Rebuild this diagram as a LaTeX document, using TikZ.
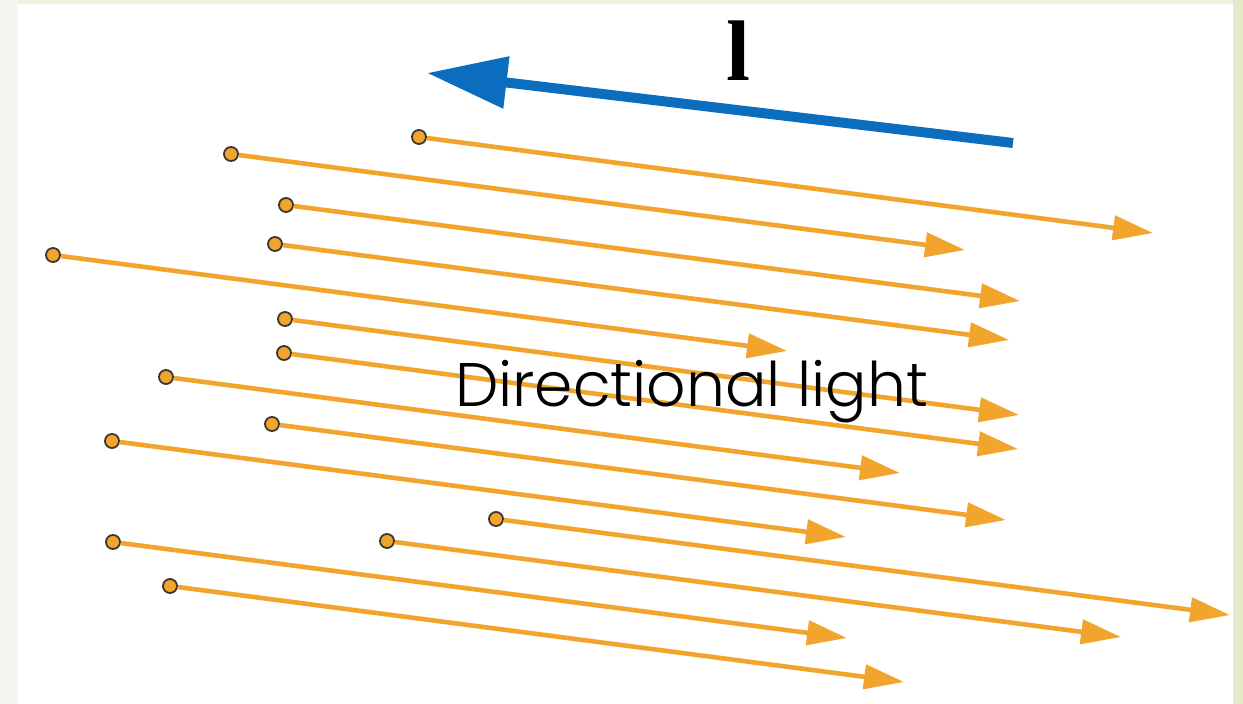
\documentclass[tikz,border=0pt]{standalone}
\usepackage{fontspec}
\setmainfont{Poppins Light}
\newfontfamily\serifbold{Liberation Serif}
\usetikzlibrary{arrows.meta,calc}
\definecolor{rayorange}{HTML}{F2A52D}
\definecolor{dirblue}{HTML}{0A6DBD}
\definecolor{dotedge}{HTML}{3A3530}
\definecolor{pageL}{HTML}{F5F6EF}
\definecolor{pageT}{HTML}{EEF2E0}
\definecolor{pageR}{HTML}{E2EACB}
\begin{document}
\begin{tikzpicture}[x=1pt,y=-1pt,
  raydot/.style={circle,fill=rayorange,draw=dotedge,line width=1.8pt,minimum size=14pt,inner sep=0pt},
  ray/.style={draw=rayorange,line width=4.6pt,-{Triangle[length=40pt,width=24pt]}},
  dirarrow/.style={draw=dirblue,line width=10pt,-{Triangle[length=80pt,width=50pt]}},
]
\useasboundingbox (0,0) rectangle (1243,704);
\fill[pageL] (0,0) rectangle (1243,704);
\fill[pageT] (18,0) rectangle (1243,4);
\fill[pageR] (1233,0) rectangle (1243,704);
\fill[white] (18,4) rectangle (1233,704);
\foreach \i/\x/\y in {1/419/137, 2/231/154, 3/286/205, 4/275/244, 5/53/255,
    6/285/319, 7/284/353, 8/166/377, 9/272/424, 10/112/441,
    11/496/519, 12/387/541, 13/113/542, 14/170/586} {
  \node[raydot] (d\i) at (\x,\y) {};
  \coordinate (e\i) at ($(d\i)+(734,96)$);
  \draw[ray] (d\i) -- (e\i);
}
\node[anchor=base west,inner sep=0pt,font=\fontsize{61.5}{61.5}\selectfont] (lbl) at (455,406) {Directional light};
\coordinate (btail) at (1013,143);
\coordinate (btip) at (427,73);
\draw[dirarrow] (btail) -- (btip);
\node[anchor=base,inner sep=0pt,font=\serifbold\bfseries\fontsize{86}{86}\selectfont] (lvec) at (738,80) {l};
\end{tikzpicture}
\end{document}
